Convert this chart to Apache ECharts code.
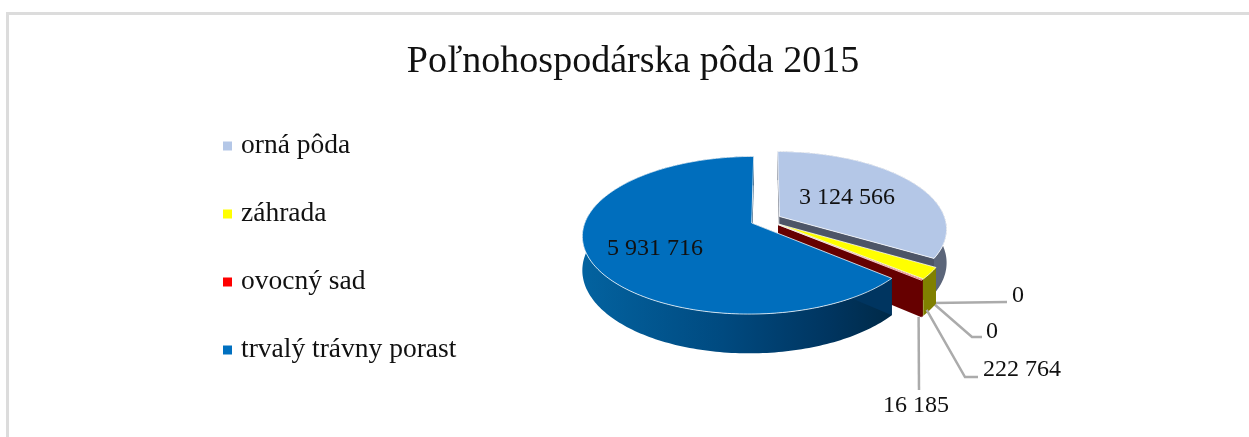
<!DOCTYPE html>
<html><head><meta charset="utf-8">
<style>html,body{margin:0;padding:0;background:#fff}#c{width:1249px;height:437px}</style>
<script src="https://cdn.jsdelivr.net/npm/echarts@6/dist/echarts.min.js"></script>
</head><body><div id="c"></div>
<script>
const titleText = 'Poľnohospodárska pôda 2015';
const categories = ['orná pôda', 'záhrada', 'ovocný sad', 'trvalý trávny porast'];
const sliceNames = ['orná pôda', 'bez názvu 1', 'bez názvu 2', 'záhrada', 'ovocný sad', 'trvalý trávny porast'];
const sliceValues = [3124566, 0, 0, 222764, 16185, 5931716];
const sliceLabels = ['3 124 566', '0', '0', '222 764', '16 185', '5 931 716'];

const serif = 'Liberation Serif';
const styles = [
  {top:'#B4C7E7', legend:'#B4C7E7', wall:'#4D5567', side:'#5B6579'},
  {top:'#888', legend:'#888', wall:'#888', side:'#888'},
  {top:'#888', legend:'#888', wall:'#888', side:'#888'},
  {top:'#FFFF00', legend:'#FFFF00', wall:'#808000', side:'#808000'},
  {top:'#FF0000', legend:'#FF0000', wall:'#660000', side:'#660000'},
  {top:'#006EBD', legend:'#0070C0', wall:'#003560', side:{type:'linear',global:true,x:585,y:0,x2:890,y2:0,colorStops:[
    {offset:0,color:'#03629F'},{offset:.45,color:'#004A80'},{offset:.8,color:'#003560'},{offset:1,color:'#002A48'}]}}
];
// label placement: inside labels by centre; outside labels by leader elbow / end
const labelPlaces = [
  {x:847,y:198},
  {line:[[1007,302]],x:1018,y:296},
  {line:[[972,337],[982,337]],x:992,y:332},
  {line:[[965,377],[978,377]],x:1022,y:370},
  {line:[[919,390]],x:916,y:406},
  {x:655,y:249}
];

// projection of the tilted, exploded disc
const C = {x:766,y:220}, A = 166, B = 76, K = .154, D = 33, E = .094;
function proj(u, v, low){
  const w = 1 - K * v;
  return [C.x + A * u / w, C.y + B * v / w + (low ? D / w : 0)];
}
const total = sliceValues.reduce((a, b) => a + b, 0);
let acc = 0;
const slices = sliceValues.map(v => {
  const a0 = acc / total * 2 * Math.PI; acc += v;
  const a1 = acc / total * 2 * Math.PI;
  const m = (a0 + a1) / 2;
  return {a0, a1, ou: E * Math.sin(m), ov: -E * Math.cos(m), m};
});
function rim(s, a, low){ return proj(s.ou + Math.sin(a), s.ov - Math.cos(a), low); }
function apex(s, low){ return proj(s.ou, s.ov, low); }
function arc(s, low){
  const n = Math.max(2, Math.ceil((s.a1 - s.a0) / .02)), p = [];
  for (let i = 0; i <= n; i++) p.push(rim(s, s.a0 + (s.a1 - s.a0) * i / n, low));
  return p;
}
const textEl = (t, x, y, size) => ({type:'text', z2:30, style:{text:t, x, y, fill:'#111', font:size + 'px "' + serif + '"', align:'center', verticalAlign:'middle'}});

function render(i){
  return function(){
    const s = slices[i], st = styles[i], kids = [];
    if (sliceValues[i] > 0) {
      kids.push({type:'polygon', shape:{points:arc(s,false).concat(arc(s,true).reverse())}, style:{fill:st.side}});
      [s.a0, s.a1].forEach(a => kids.push({type:'polygon',
        shape:{points:[apex(s,false), rim(s,a,false), rim(s,a,true), apex(s,true)]}, style:{fill:st.wall}}));
      kids.push({type:'polygon', shape:{points:[apex(s,false)].concat(arc(s,false))},
        style:{fill:st.top, stroke:'rgba(255,255,255,.75)', lineWidth:1}});
    }
    const lp = labelPlaces[i];
    if (lp.line) {
      const from = rim(s, s.m, true);
      kids.push({type:'polyline', z2:20, shape:{points:[[from[0] - 3.5, from[1]]].concat(lp.line)},
        style:{fill:'none', stroke:'#ABABAB', lineWidth:2.5}});
    }
    kids.push(textEl(sliceLabels[i], lp.x, lp.y, 24));
    return {type:'group', children:kids};
  };
}

const chart = echarts.init(document.getElementById('c'), null, {renderer:'canvas'});
chart.setOption({
  animation:false,
  backgroundColor:'#fff',
  title:{text:titleText, left:628, top:38, textAlign:'center',
    textStyle:{fontFamily:serif, fontSize:38, fontWeight:'normal', color:'#111'}},
  legend:{data:categories, orient:'vertical', left:223, top:127, padding:0, icon:'rect', itemWidth:9, itemHeight:9, itemGap:30, itemStyle:{borderWidth:0},
    textStyle:{fontFamily:serif, fontSize:27.5, lineHeight:30, color:'#111', padding:[8,0,0,4]}},
  graphic:[{type:'polyline', silent:true, shape:{points:[[7.5,437],[7.5,13.5],[1249,13.5]]}, style:{fill:'none', stroke:'#DCDCDC', lineWidth:3}}],
  series:sliceValues.map((v, i) => ({
    type:'custom', name:sliceNames[i], coordinateSystem:'none', silent:true, z:2+i,
    itemStyle:{color:styles[i].legend},
    data:[v], renderItem:render(i)
  }))
});
</script></body></html>
